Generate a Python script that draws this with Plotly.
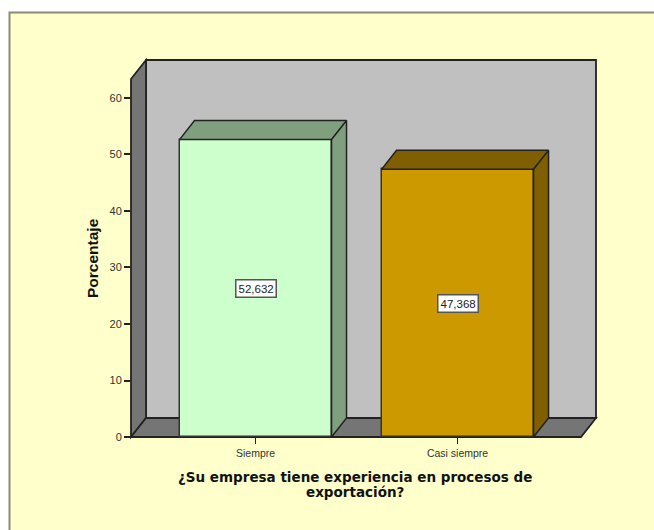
import plotly.graph_objects as go

categories = ["Siempre", "Casi siempre"]
values = [52.632, 47.368]
front_colors = ["#CCFFCC", "#CC9900"]
side_colors = ["#7F9F7F", "#7F5F00"]
y_ticks = [0, 10, 20, 30, 40, 50, 60]
x_title_lines = ["¿Su empresa tiene experiencia en procesos de", "exportación?"]
y_title = "Porcentaje"

W, H = 654, 530
L, R, T, B = 131, 596, 60, 437      # plot area in page pixels
X0, X1 = -0.6165, 1.6855            # category axis range
Y1 = 66.72                          # value axis top
BAR_W = 0.7525
DX = 15 * (X1 - X0) / (R - L)       # depth offsets in axis units
DY = 19 * Y1 / (B - T)
EDGE = "#222222"
WALL = "#C0C0C0"
FLOOR = "#757575"

px = lambda v: (v - L) / (R - L)
py = lambda v: (B - v) / (B - T)

fig = go.Figure()

fig.add_trace(go.Bar(
    x=list(range(len(categories))), y=values, width=BAR_W,
    marker=dict(color=front_colors, line=dict(color="#333333", width=1.5)),
    hoverinfo="skip", showlegend=False,
))


def face(xs, ys, fill):
    fig.add_trace(go.Scatter(
        x=xs, y=ys, mode="lines", fill="toself", fillcolor=fill,
        line=dict(color=EDGE, width=1.5), cliponaxis=False,
        hoverinfo="skip", showlegend=False,
    ))


for i, v in enumerate(values):
    a, b = i - BAR_W / 2, i + BAR_W / 2
    face([a, b, b + DX, a + DX, a], [v, v, v + DY, v + DY, v], side_colors[i])
    face([b, b + DX, b + DX, b, b], [0, DY, v + DY, v, 0], side_colors[i])

# Panel: only its top and left edges fall inside the page
shapes = [
    dict(type="rect", xref="paper", yref="paper", layer="below",
         x0=px(9.5), x1=px(W + 10), y0=py(H + 10), y1=py(12.5),
         fillcolor="#FFFFCC", line=dict(color="#8A8A7A", width=2)),
]

ax = lambda x: (x - X0) / (X1 - X0)      # axis units to paper fractions
ay = lambda y: y / Y1

for pts, fill in [
    ([(X0 + DX, DY), (X1, DY), (X1, Y1), (X0 + DX, Y1)], WALL),
    ([(X0, 0), (X0 + DX, DY), (X0 + DX, Y1), (X0, Y1 - DY)], FLOOR),
    ([(X0, 0), (X1 - DX, 0), (X1, DY), (X0 + DX, DY)], FLOOR),
]:
    d = "M " + " L ".join(f"{ax(x):.5f},{ay(y):.5f}" for x, y in pts) + " Z"
    shapes.append(dict(type="path", xref="paper", yref="paper", layer="below", path=d,
                       fillcolor=fill, line=dict(color=EDGE, width=1.8)))

annotations = [
    dict(x=i, y=v / 2, xref="x", yref="y", text=f"{v:.3f}".replace(".", ","),
         showarrow=False, bgcolor="#FFFFFF", bordercolor="#555555", borderwidth=1.5,
         borderpad=2, font=dict(family="Liberation Sans", size=11.5, color="#222222"))
    for i, v in enumerate(values)
]
for line, ypix in zip(x_title_lines, [477, 492]):
    annotations.append(dict(
        x=px(355), y=py(ypix), xref="paper", yref="paper", text=f"<b>{line}</b>",
        showarrow=False, xanchor="center", yanchor="middle",
        font=dict(family="DejaVu Sans", size=13.5, color="#111111"),
    ))
annotations.append(dict(
    x=px(92), y=py(258), xref="paper", yref="paper", text=f"<b>{y_title}</b>",
    showarrow=False, textangle=-90, xanchor="center", yanchor="middle",
    font=dict(family="Liberation Sans", size=15.5, color="#111111"),
))

fig.update_layout(
    width=W, height=H, autosize=False,
    margin=dict(l=L, r=W - R, t=T, b=H - B, pad=0),
    paper_bgcolor="#FFFFFF", plot_bgcolor="rgba(0,0,0,0)",
    showlegend=False, shapes=shapes, annotations=annotations, bargap=0,
    xaxis=dict(range=[X0, X1], tickmode="array", tickvals=list(range(len(categories))),
               ticktext=categories, ticks="outside", ticklen=6, tickwidth=1,
               tickcolor="#222222", showgrid=False, zeroline=False, showline=False,
               tickfont=dict(family="Liberation Sans", size=10.5, color="#333333")),
    yaxis=dict(range=[0, Y1], tickmode="array", tickvals=y_ticks,
               ticks="outside", ticklen=6, tickwidth=1.5, tickcolor="#222222",
               showgrid=False, zeroline=False, showline=False,
               tickfont=dict(family="Liberation Sans", size=11, color="#333333")),
)

fig.write_html("out.html", config=dict(displayModeBar=False),
               post_script="document.body.style.margin='0';")
